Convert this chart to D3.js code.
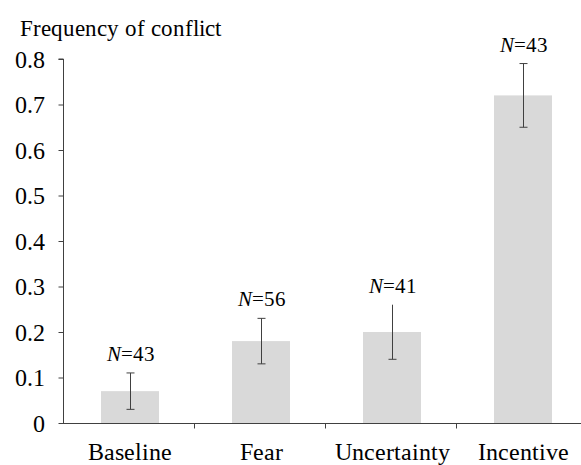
<!DOCTYPE html>
<html><head><meta charset="utf-8">
<script src="https://cdn.jsdelivr.net/npm/d3@7"></script>
<style>
@font-face{font-family:"ChartSerif";src:local("Liberation Serif"),local("LiberationSerif"),local("Times New Roman");font-style:normal;font-weight:400}
@font-face{font-family:"ChartSerif";src:local("Liberation Serif Italic"),local("LiberationSerif-Italic"),local("Times New Roman Italic");font-style:italic;font-weight:400}
</style>
</head><body style="margin:0;background:#fff"><svg id="c" width="581" height="465" style="display:block"></svg>
<script>
const categories = ["Baseline", "Fear", "Uncertainty", "Incentive"];
const values = [0.07, 0.18, 0.20, 0.72];
const errLow = [0.03, 0.13, 0.14, 0.65];
const errHigh = [0.11, 0.23, 0.26, 0.79];
const nLabels = ["43", "56", "41", "43"];
const yTicks = [0, 0.1, 0.2, 0.3, 0.4, 0.5, 0.6, 0.7, 0.8];

const FONT = "ChartSerif, 'Liberation Serif', 'Times New Roman', serif";
const svg = d3.select("#c");
const x = d3.scaleBand().domain(categories).range([63, 587]).paddingInner(0).paddingOuter(0);
const y = d3.scaleLinear().domain([0, 0.8]).range([423, 59]);
const bw = 58;

function serif(sel, size) {
  return sel.attr("font-family", FONT).attr("font-size", size);
}

serif(svg.append("text").attr("x", 20).attr("y", 36), 23).text("Frequency of conflict");

// bars
svg.selectAll("rect.bar").data(categories).join("rect")
  .attr("x", d => x(d) + x.bandwidth()/2 - bw/2 + 1.5)
  .attr("width", bw)
  .attr("y", (d,i) => y(values[i]))
  .attr("height", (d,i) => y(0) - y(values[i]))
  .attr("fill", "#d9d9d9");

// error bars
const eg = svg.append("g").attr("stroke", "#404040").attr("stroke-width", 1);
categories.forEach((c,i) => {
  const cx = Math.round(x(c) + x.bandwidth()/2 + 1.5) + 0.5;
  eg.append("line").attr("x1", cx).attr("x2", cx).attr("y1", y(errLow[i])).attr("y2", y(errHigh[i]));
  eg.append("line").attr("x1", cx-4).attr("x2", cx+4).attr("y1", y(errLow[i])).attr("y2", y(errLow[i]));
  if (c !== "Uncertainty") eg.append("line").attr("x1", cx-4).attr("x2", cx+4).attr("y1", y(errHigh[i])).attr("y2", y(errHigh[i]));
  const t = serif(svg.append("text").attr("x", cx).attr("y", y(errHigh[i]) - 12)
    .attr("text-anchor", "middle"), 21);
  t.append("tspan").attr("font-style", "italic").text("N");
  t.append("tspan").text("=" + nLabels[i]);
});

// y axis
const ya = svg.append("g").attr("transform", "translate(63.5,0)")
  .call(d3.axisLeft(y).tickValues(yTicks).tickFormat(d => d === 0 ? "0" : d3.format(".1f")(d)).tickSize(5).tickPadding(14));
serif(ya, 24);
ya.select(".domain").attr("stroke", "#404040").attr("d", `M-5,${y(0.8)}H0V${y(0)}`);
ya.selectAll(".tick line").attr("stroke", "#404040");
ya.selectAll(".tick text").attr("fill", "#000").attr("dy", "0.34em");

// x axis
const xa = svg.append("g").attr("transform", `translate(0,${y(0)+0.5})`);
xa.append("line").attr("x1", 63).attr("x2", 581).attr("stroke", "#404040");
categories.slice(1).forEach(c => {
  xa.append("line").attr("x1", Math.round(x(c))+0.5).attr("x2", Math.round(x(c))+0.5).attr("y1", 0).attr("y2", 5).attr("stroke", "#404040");
});
categories.forEach(c => {
  serif(xa.append("text").attr("x", x(c) + x.bandwidth()/2 + 1.5).attr("y", 36)
    .attr("text-anchor", "middle"), 24).text(c);
});
</script></body></html>
